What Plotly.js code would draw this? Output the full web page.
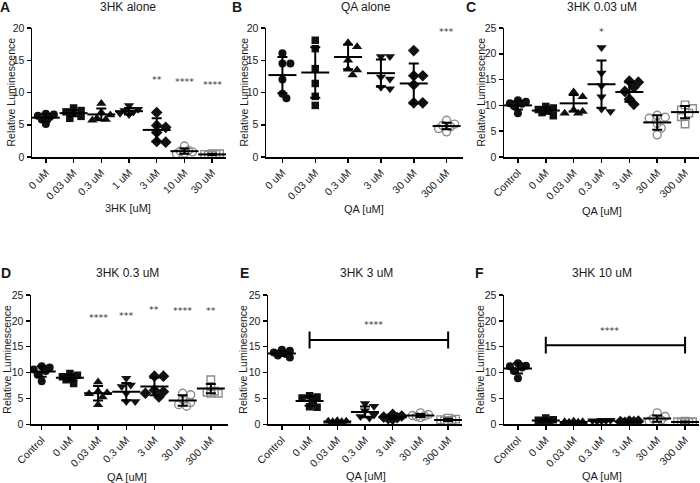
<!DOCTYPE html>
<html>
<head>
<meta charset="utf-8">
<script src="https://cdn.plot.ly/plotly-3.0.1.min.js"></script>
<style>html,body{margin:0;padding:0;background:#fff;}</style>
</head>
<body>
<div id="chart" style="width:700px;height:483px;"></div>
<script>
// ---- category labels ----
const cats3HK = ['0 uM', '0.03 uM', '0.3 uM', '1 uM', '3 uM', '10 uM', '30 uM'];
const catsQA = ['0 uM', '0.03 uM', '0.3 uM', '3 uM', '30 uM', '300 uM'];
const catsCtlQA = ['Control', '0 uM', '0.03 uM', '0.3 uM', '3 uM', '30 uM', '300 uM'];

// ---- A: 3HK alone (replicates, mean, SD, significance) ----
const ptsA = [
  [6.7, 6.6, 6.4, 6.2, 5.8, 5.1],
  [7.6, 7.2, 7.0, 6.8, 6.3, 6.0],
  [8.3, 6.9, 6.5, 6.0, 5.8, 5.7],
  [8.0, 7.4, 7.2, 7.0, 6.8, 6.6],
  [6.9, 4.9, 4.6, 3.8, 2.4, 2.3],
  [1.7, 1.0, 0.9, 0.8, 0.6, 0.5],
  [0.5, 0.5, 0.4, 0.4, 0.3, 0.3]
];
const meanA = [6.1, 6.8, 6.6, 7.1, 4.2, 0.9, 0.4];
const sdA = [0.6, 0.5, 0.9, 0.5, 1.8, 0.4, 0.1];
const starsA = ['', '', '', '', '**', '****', '****'];
const starYA = [0, 0, 0, 0, 12.2, 11.8, 11.4];

// ---- B: QA alone ----
const ptsB = [
  [16.1, 14.5, 14.5, 12.0, 9.8, 9.1],
  [18.1, 16.8, 13.7, 11.4, 9.4, 8.0],
  [17.7, 17.1, 15.0, 13.6, 13.5, 12.7],
  [15.6, 15.6, 12.4, 12.1, 10.8, 10.6],
  [16.5, 12.6, 12.6, 11.2, 8.4, 8.4],
  [5.7, 5.1, 4.9, 4.7, 4.4, 3.9]
];
const meanB = [12.7, 13.1, 15.5, 13.0, 11.4, 4.8];
const sdB = [2.8, 3.9, 1.9, 2.1, 3.1, 0.5];
const starsB = ['', '', '', '', '', '***'];
const starYB = [0, 0, 0, 0, 0, 19.6];

// ---- C: 3HK 0.03 uM + QA ----
const ptsC = [
  [11.0, 10.7, 10.4, 10.3, 9.9, 8.5],
  [9.8, 9.5, 9.2, 9.0, 8.6, 8.0],
  [12.6, 11.7, 9.1, 8.8, 8.5, 8.5],
  [21.2, 16.3, 13.8, 11.7, 9.3, 8.8],
  [14.7, 14.5, 13.5, 12.7, 11.2, 10.2],
  [8.1, 7.7, 7.5, 6.5, 5.6, 4.3],
  [10.1, 9.4, 9.1, 8.5, 7.8, 6.4]
];
const meanC = [10.0, 9.0, 10.4, 14.1, 12.6, 6.7, 8.7];
const sdC = [0.8, 0.6, 1.6, 4.6, 1.9, 1.4, 1.2];
const starsC = ['', '', '', '*', '', '', ''];
const starYC = [0, 0, 0, 24.6, 0, 0, 0];

// ---- D: 3HK 0.3 uM + QA ----
const ptsD = [
  [11.2, 11.0, 10.6, 10.3, 9.6, 8.3],
  [9.8, 9.5, 9.2, 9.0, 8.6, 7.9],
  [8.2, 6.4, 6.1, 5.9, 5.3, 3.8],
  [8.9, 7.6, 7.3, 6.0, 4.4, 4.4],
  [9.3, 9.3, 6.6, 6.3, 6.0, 5.3],
  [6.0, 5.7, 4.8, 4.2, 3.8, 3.5],
  [8.6, 7.3, 6.4, 6.2, 6.0, 6.0]
];
const meanD = [10.2, 9.0, 6.0, 6.3, 7.3, 4.6, 6.9];
const sdD = [1.0, 0.6, 1.4, 1.7, 1.7, 1.0, 0.9];
const starsD = ['', '', '****', '***', '**', '****', '**'];
const starYD = [0, 0, 20.8, 21.2, 22.3, 22.2, 22.2];

// ---- E: 3HK 3 uM + QA ----
const ptsE = [
  [14.4, 14.2, 13.9, 13.6, 13.3, 12.9],
  [5.5, 5.3, 5.1, 4.6, 3.4, 3.3],
  [0.7, 0.6, 0.6, 0.5, 0.5, 0.4],
  [4.0, 3.5, 2.6, 1.8, 1.5, 1.2],
  [1.9, 1.6, 1.4, 1.3, 1.1, 1.0],
  [2.2, 1.9, 1.7, 1.6, 1.5, 1.3],
  [1.2, 1.0, 0.9, 0.8, 0.7, 0.6]
];
const meanE = [13.7, 4.5, 0.55, 2.4, 1.35, 1.7, 0.85];
const sdE = [0.5, 0.9, 0.1, 1.05, 0.3, 0.3, 0.2];

// ---- F: 3HK 10 uM + QA ----
const ptsF = [
  [11.8, 11.3, 11.2, 11.0, 10.3, 8.9],
  [1.2, 0.9, 0.8, 0.7, 0.6, 0.4],
  [0.6, 0.5, 0.5, 0.4, 0.4, 0.3],
  [0.8, 0.8, 0.7, 0.7, 0.6, 0.6],
  [0.6, 0.6, 0.5, 0.5, 0.4, 0.4],
  [2.2, 1.5, 1.1, 0.8, 0.6, 0.5],
  [0.6, 0.5, 0.5, 0.4, 0.4, 0.4]
];
const meanF = [10.8, 0.75, 0.45, 0.7, 0.5, 1.1, 0.45];
const sdF = [1.0, 0.25, 0.1, 0.1, 0.1, 0.6, 0.1];

// ---- group-comparison brackets (E, F): from group index to group index ----
const bracketE = {from: 1, to: 6, y: 16.3, label: '****', labelY: 19.5};
const bracketF = {from: 1, to: 6, y: 15.3, label: '****', labelY: 18.3};

// ---- marker styles per group position ----
const FILLED = '#111';
const GREY = '#8c8c8c';
const styles = [
  {symbol: 'circle', size: 8, color: FILLED},
  {symbol: 'square', size: 7.5, color: FILLED},
  {symbol: 'triangle-up', size: 9, color: FILLED},
  {symbol: 'triangle-down', size: 9, color: FILLED},
  {symbol: 'diamond', size: 9, color: FILLED},
  {symbol: 'circle-open', size: 8, color: GREY, line: 1.4},
  {symbol: 'square-open', size: 7.5, color: GREY, line: 1.4}
];

// ---- panel geometry (pixels on a 700 x 483 canvas) ----
const W = 700, H = 483;
const TOP = {y0: 157, y1: 28, titleY: 7};
const BOT = {y0: 424.3, y1: 295, titleY: 273};
const panels = [
  {letter: 'A', cats: cats3HK, pts: ptsA, mean: meanA, sd: sdA, stars: starsA, starY: starYA,
   row: TOP, x0: 32, x1: 226, range: [-0.5, 6.5], ymax: 20, title: '3HK alone', titleX: 128,
   letterX: 5, ytitleX: 10, xtitle: '3HK [uM]', xtitleX: 128, xtitleY: 208},
  {letter: 'B', cats: catsQA, pts: ptsB, mean: meanB, sd: sdB, stars: starsB, starY: starYB,
   row: TOP, x0: 266, x1: 463, range: [-0.5, 5.5], ymax: 20, title: 'QA alone', titleX: 366,
   letterX: 237, ytitleX: 243, xtitle: 'QA [uM]', xtitleX: 364, xtitleY: 209},
  {letter: 'C', cats: catsCtlQA, pts: ptsC, mean: meanC, sd: sdC, stars: starsC, starY: starYC,
   row: TOP, x0: 504, x1: 699, range: [-0.5, 6.5], ymax: 25, title: '3HK 0.03 uM', titleX: 602,
   letterX: 471, ytitleX: 480, xtitle: 'QA [uM]', xtitleX: 602, xtitleY: 211},
  {letter: 'D', cats: catsCtlQA, pts: ptsD, mean: meanD, sd: sdD, stars: starsD, starY: starYD,
   row: BOT, x0: 31, x1: 228, range: [-0.38, 6.61], ymax: 25, title: '3HK 0.3 uM', titleX: 127,
   letterX: 6, ytitleX: 7, xtitle: 'QA [uM]', xtitleX: 127, xtitleY: 477},
  {letter: 'E', cats: catsCtlQA, pts: ptsE, mean: meanE, sd: sdE, bracket: bracketE,
   row: BOT, x0: 268, x1: 462, range: [-0.5, 6.5], ymax: 25, title: '3HK 3 uM', titleX: 366,
   letterX: 244, ytitleX: 243, xtitle: 'QA [uM]', xtitleX: 366, xtitleY: 476},
  {letter: 'F', cats: catsCtlQA, pts: ptsF, mean: meanF, sd: sdF, bracket: bracketF,
   row: BOT, x0: 504, x1: 699, range: [-0.5, 6.5], ymax: 25, title: '3HK 10 uM', titleX: 602,
   letterX: 479, ytitleX: 480, xtitle: 'QA [uM]', xtitleX: 602, xtitleY: 476}
];

const FONT = 'Liberation Sans, Arial, Helvetica, sans-serif';
const STAR_FONT = 'DejaVu Sans, Liberation Sans, sans-serif';
const TXT = '#1a1a1a';
const STAR = '#333333';
const px = x => x / W;
const py = y => 1 - y / H;

// Spread replicate points sideways (compact beeswarm in pixel space)
function swarm(vals, pxPerY, pxPerX, size) {
  const placed = [];
  const steps = [0, 1, -1, 2, -2].map(k => k * size * 0.5);
  return vals.map(v => {
    const yy = v * pxPerY;
    let best = 0, bestD = -1;
    for (const c of steps) {
      let d = Infinity;
      for (const p of placed) d = Math.min(d, Math.hypot(c - p[0], yy - p[1]));
      if (d >= size * 0.75) { best = c; bestD = d; break; }
      if (d > bestD) { bestD = d; best = c; }
    }
    placed.push([best, yy]);
    return best / pxPerX;
  });
}

const traces = [];
const annotations = [];
const layout = {
  width: W, height: H,
  margin: {l: 0, r: 0, t: 0, b: 0},
  paper_bgcolor: '#fff', plot_bgcolor: '#fff',
  showlegend: false,
  font: {family: FONT, color: TXT}
};

function ann(text, x, y, size, extra) {
  annotations.push(Object.assign({
    text: text, x: px(x), y: py(y), xref: 'paper', yref: 'paper',
    showarrow: false, xanchor: 'center', yanchor: 'middle',
    font: {family: FONT, size: size, color: TXT}
  }, extra || {}));
}

function starNote(text, x, y, xa, ya) {
  annotations.push({
    text: text, x: x, y: y, xref: xa, yref: ya, showarrow: false,
    xanchor: 'center', yanchor: 'middle', yshift: -1,
    font: {family: STAR_FONT, size: 9.5, color: STAR}
  });
}

panels.forEach((p, k) => {
  const n = k + 1;
  const xa = n === 1 ? 'x' : 'x' + n;
  const ya = n === 1 ? 'y' : 'y' + n;
  const pxPerY = (p.row.y0 - p.row.y1) / p.ymax;
  const pxPerX = (p.x1 - p.x0) / (p.range[1] - p.range[0]);

  layout[n === 1 ? 'xaxis' : 'xaxis' + n] = {
    domain: [px(p.x0), px(p.x1)], range: p.range, anchor: ya,
    tickmode: 'array', tickvals: p.cats.map((c, i) => i), ticktext: p.cats,
    tickangle: -45, ticks: 'outside', ticklen: 4, tickwidth: 1.5, tickcolor: '#000',
    showline: true, linewidth: 1.5, linecolor: '#000',
    showgrid: false, zeroline: false, fixedrange: true,
    tickfont: {family: FONT, size: 10.5, color: TXT}
  };
  layout[n === 1 ? 'yaxis' : 'yaxis' + n] = {
    domain: [py(p.row.y0), py(p.row.y1)], range: [0, p.ymax], anchor: xa,
    tickmode: 'linear', tick0: 0, dtick: 5,
    ticks: 'outside', ticklen: 4, tickwidth: 1.5, tickcolor: '#000',
    showline: true, linewidth: 1.5, linecolor: '#000',
    showgrid: false, zeroline: false, fixedrange: true,
    tickfont: {family: FONT, size: 10.5, color: TXT}
  };

  // replicate points
  p.pts.forEach((vals, i) => {
    const st = styles[i];
    const offs = swarm(vals, pxPerY, pxPerX, st.size);
    traces.push({
      type: 'scatter', mode: 'markers', xaxis: xa, yaxis: ya,
      x: vals.map((v, j) => i + offs[j]), y: vals,
      marker: {symbol: st.symbol, size: st.size, color: st.color,
               line: {color: st.color, width: st.line || 0}},
      hoverinfo: 'y'
    });
  });

  // mean line with SD whiskers
  traces.push({
    type: 'scatter', mode: 'markers', xaxis: xa, yaxis: ya,
    x: p.mean.map((m, i) => i), y: p.mean,
    marker: {symbol: 'line-ew', size: 20, color: '#000', line: {color: '#000', width: 2}},
    error_y: {type: 'data', array: p.sd, visible: true, color: '#000', thickness: 2, width: 5},
    hoverinfo: 'y'
  });

  // significance asterisks above groups
  if (p.stars) {
    p.stars.forEach((s, i) => { if (s) starNote(s, i, p.starY[i], xa, ya); });
  }

  // comparison bracket
  if (p.bracket) {
    const b = p.bracket;
    traces.push({
      type: 'scatter', mode: 'lines+markers', xaxis: xa, yaxis: ya,
      x: [b.from, b.to], y: [b.y, b.y],
      line: {color: '#000', width: 2},
      marker: {symbol: 'line-ns', size: 12, color: '#000', line: {color: '#000', width: 2}},
      hoverinfo: 'skip'
    });
    starNote(b.label, (b.from + b.to) / 2 - 0.2, b.labelY, xa, ya);
  }

  // panel letter, title, axis titles
  ann('<b>' + p.letter + '</b>', p.letterX, p.row.titleY, 14);
  ann(p.title, p.titleX, p.row.titleY, 12);
  ann('Relative Luminescence', p.ytitleX, (p.row.y0 + p.row.y1) / 2, 10.5, {textangle: -90});
  ann(p.xtitle, p.xtitleX, p.xtitleY, 11);
});

layout.annotations = annotations;
Plotly.newPlot('chart', traces, layout, {staticPlot: true, displayModeBar: false});
</script>
</body>
</html>
